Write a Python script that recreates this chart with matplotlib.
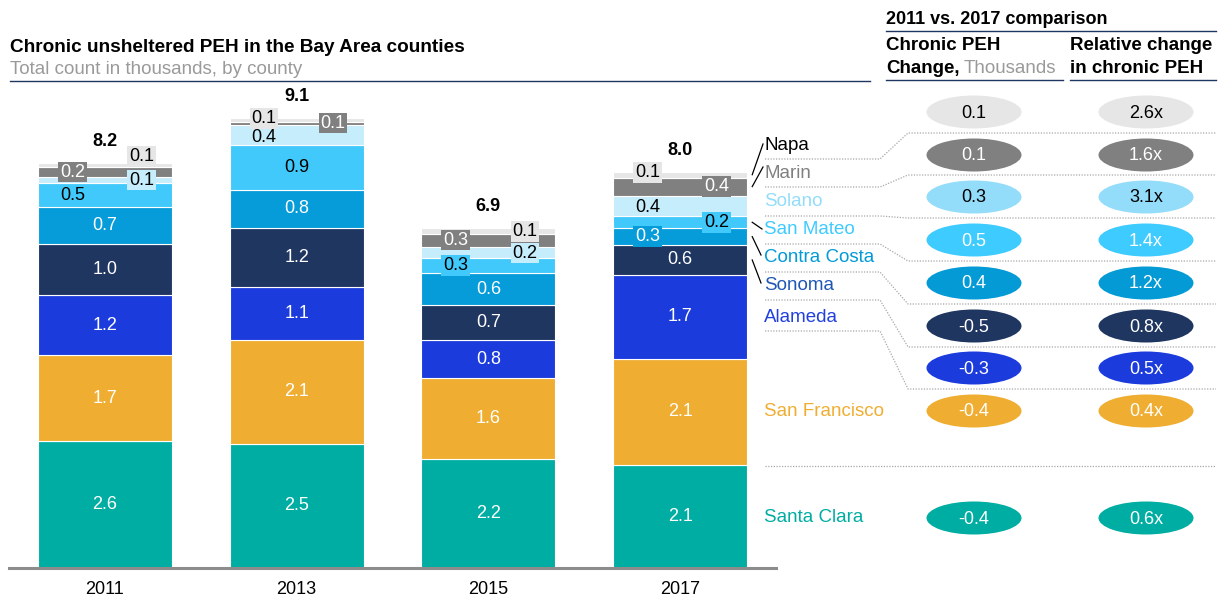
import matplotlib
matplotlib.use('Agg')
import matplotlib.pyplot as plt
from matplotlib.patches import Ellipse

plt.rcParams['font.family'] = ['Liberation Sans', 'DejaVu Sans']

# ---------------- data ----------------
years = ['2011', '2013', '2015', '2017']
counties = ['Santa Clara', 'San Francisco', 'Alameda', 'Sonoma', 'Contra Costa',
            'San Mateo', 'Solano', 'Marin', 'Napa']
santa_clara = [2.56, 2.50, 2.20, 2.08]
san_francisco = [1.73, 2.10, 1.63, 2.14]
alameda = [1.21, 1.07, 0.76, 1.69]
sonoma = [1.04, 1.19, 0.72, 0.60]
contra_costa = [0.74, 0.77, 0.63, 0.34]
san_mateo = [0.48, 0.89, 0.32, 0.24]
solano = [0.12, 0.42, 0.22, 0.42]
marin = [0.20, 0.06, 0.26, 0.36]
napa = [0.08, 0.08, 0.12, 0.12]
series = [santa_clara, san_francisco, alameda, sonoma, contra_costa,
          san_mateo, solano, marin, napa]

# comparison table (order top to bottom: Napa ... Santa Clara)
table_counties = ['Napa', 'Marin', 'Solano', 'San Mateo', 'Contra Costa',
                  'Sonoma', 'Alameda', 'San Francisco', 'Santa Clara']
change_thousands = [0.1, 0.1, 0.3, 0.5, 0.4, -0.5, -0.3, -0.4, -0.4]
relative_change = [2.6, 1.6, 3.1, 1.4, 1.2, 0.8, 0.5, 0.4, 0.6]

# ---------------- styles ----------------
bar_colors = {'Santa Clara': '#00ADA2', 'San Francisco': '#EFAE32', 'Alameda': '#1B3BDC',
              'Sonoma': '#1F3661', 'Contra Costa': '#069BD9', 'San Mateo': '#40C9FA',
              'Solano': '#C6EDFB', 'Marin': '#808080', 'Napa': '#E6E6E6'}
bar_text = {'Santa Clara': 'white', 'San Francisco': 'white', 'Alameda': 'white',
            'Sonoma': 'white', 'Contra Costa': 'white', 'San Mateo': 'black',
            'Solano': 'black', 'Marin': 'white', 'Napa': 'black'}
legend_colors = {'Napa': '#000000', 'Marin': '#808080', 'Solano': '#93DDFA',
                 'San Mateo': '#3ECBFF', 'Contra Costa': '#039AD6', 'Sonoma': '#1F57B5',
                 'Alameda': '#2040DD', 'San Francisco': '#EFAE32', 'Santa Clara': '#00ADA2'}
ell_colors = {'Napa': '#E6E6E6', 'Marin': '#808080', 'Solano': '#93DDFA',
              'San Mateo': '#3ECBFF', 'Contra Costa': '#039AD6', 'Sonoma': '#1F3661',
              'Alameda': '#1B3BDC', 'San Francisco': '#EFAE32', 'Santa Clara': '#00ADA2'}
ell_text = {'Napa': 'black', 'Marin': 'white', 'Solano': 'black', 'San Mateo': 'white',
            'Contra Costa': 'white', 'Sonoma': 'white', 'Alameda': 'white',
            'San Francisco': 'white', 'Santa Clara': 'white'}

# label placement for small segments: (side, dy in px, boxed)
placements = {
    ('Solano', 0): ('r', 0, True), ('Marin', 0): ('l', 0, True),
    ('Napa', 0): ('r', -9, True), ('San Mateo', 0): ('l', 0, False),
    ('Napa', 1): ('l', -1, True), ('Marin', 1): ('r', 0, True), ('Solano', 1): ('l', 3, False),
    ('Napa', 2): ('r', 1, True), ('Marin', 2): ('l', 0, True),
    ('Solano', 2): ('r', 1, True), ('San Mateo', 2): ('l', 0, True),
    ('Napa', 3): ('l', -2, True), ('Marin', 3): ('r', 0, True), ('Solano', 3): ('l', 2, False),
    ('San Mateo', 3): ('r', 0, True), ('Contra Costa', 3): ('l', 0, True),
}

FS = 13.5
W, H = 1222, 600
fig = plt.figure(figsize=(W / 100, H / 100), dpi=100)

# bar axes: pixel box x 9..776, baseline at y=568, 49.6 px per thousand
ymax = 10.0
ax_h = 49.6 * ymax
ax = fig.add_axes([9 / W, (H - 568) / H, 767 / W, ax_h / H])
ax.set_xlim(-0.5, 3.5)
ax.set_ylim(0, ymax)
for s in ['top', 'right', 'left']:
    ax.spines[s].set_visible(False)
ax.spines['bottom'].set_color('#8C8C8C')
ax.spines['bottom'].set_linewidth(2.2)
ax.set_yticks([])
ax.set_xticks(range(len(years)))
ax.set_xticklabels(years, fontsize=13)
ax.tick_params(axis='x', length=0, pad=9)

bw = 0.70
xs = list(range(len(years)))
bottoms = [0.0] * len(years)
seg_centers = {}
for name, vals in zip(counties, series):
    ax.bar(xs, vals, width=bw, bottom=bottoms, color=bar_colors[name],
           edgecolor='white', linewidth=0.8, zorder=2)
    for i, v in enumerate(vals):
        yc = bottoms[i] + v / 2
        seg_centers[(name, i)] = yc
        side, dy, boxed = placements.get((name, i), ('c', 0, False))
        xo = {'c': 0.0, 'l': -0.17, 'r': 0.19}[side]
        kw = dict(ha='center', va='center', fontsize=13, color=bar_text[name], zorder=5)
        if boxed:
            kw['bbox'] = dict(boxstyle='square,pad=0.1', fc=bar_colors[name], ec='none')
        ax.annotate(f'{v:.1f}', (i + xo, yc), xytext=(0, -dy * 0.72),
                    textcoords='offset points', **kw)
    bottoms = [b + v for b, v in zip(bottoms, vals)]

for i, t in enumerate(bottoms):
    ax.annotate(f'{t:.1f}', (i, t), xytext=(0, 15.5), textcoords='offset points',
                ha='center', va='center', fontsize=13, fontweight='bold', zorder=5)

# overlay axes in pixel coordinates (y down)
ov = fig.add_axes([0, 0, 1, 1], zorder=10)
ov.set_xlim(0, W)
ov.set_ylim(H, 0)
ov.axis('off')
ov.patch.set_alpha(0)

navy = '#1F3661'
# title block
ov.text(10, 47, 'Chronic unsheltered PEH in the Bay Area counties', fontsize=13.7,
        fontweight='bold', va='center', ha='left')
ov.text(10, 69, 'Total count in thousands, by county', fontsize=FS, color='#9A9A9A',
        va='center', ha='left')
ov.plot([10, 870], [81, 81], color=navy, lw=1.0)

# comparison header
ov.text(886, 19, '2011 vs. 2017 comparison', fontsize=13, fontweight='bold', va='center')
ov.plot([886, 1216], [31, 31], color=navy, lw=1.0)
ov.text(886, 46, 'Chronic PEH', fontsize=FS, fontweight='bold', va='center')
t1 = ov.text(886, 68.5, 'Change,', fontsize=FS, fontweight='bold', va='center')
fig.canvas.draw()
r = fig.canvas.get_renderer()
bb = t1.get_window_extent(renderer=r)
ov.text(886 + bb.width + 4, 68.5, 'Thousands', fontsize=FS, color='#9A9A9A', va='center')
ov.plot([886, 1063], [80, 80], color=navy, lw=1.0)
ov.text(1070, 46, 'Relative change', fontsize=FS, fontweight='bold', va='center')
ov.text(1070, 68.5, 'in chronic PEH', fontsize=FS, fontweight='bold', va='center')
ov.plot([1070, 1216], [80, 80], color=navy, lw=1.0)

# legend labels and table rows
legend_y = [145, 173, 201, 230, 258, 286, 317, 411, 518]
row_y = [112, 155, 197, 240, 283, 326, 368, 411, 518]
for name, ly, ry, ch, rel in zip(table_counties, legend_y, row_y, change_thousands, relative_change):
    ov.text(764, ly, name, fontsize=FS, color=legend_colors[name], va='center', ha='left')
    for cx, txt in [(974, f'{ch:.1f}'), (1146, f'{rel:.1f}x')]:
        ov.add_patch(Ellipse((cx, ry), 95, 33, fc=ell_colors[name], ec='none'))
        ov.text(cx, ry + 1, txt, fontsize=13, color=ell_text[name], ha='center', va='center')

# dotted separators
dot = dict(color='#A8A8A8', lw=0.9, ls=(0, (1, 1.2)))
sep_left = [159, 187, 216, 244, 272, 300, 331]
sep_right = [133, 175, 218, 261, 304, 347, 389]
for yl, yr in zip(sep_left, sep_right):
    ov.plot([765, 880, 908, 1216], [yl, yl, yr, yr], **dot)
ov.plot([765, 1216], [466, 466], **dot)

# leader lines from 2017 segments to legend labels
leaders = {'Napa': (763, 144), 'Marin': (763, 167), 'San Mateo': (762, 229),
           'Contra Costa': (761, 255), 'Sonoma': (761, 283)}
for name, (ex, ey) in leaders.items():
    yc = seg_centers[(name, 3)]
    px, py = ax.transData.transform((3 + bw / 2, yc))
    ov.plot([px + 5, ex], [H - py, ey], color='black', lw=0.9)

fig.savefig('out.png', dpi=100)
